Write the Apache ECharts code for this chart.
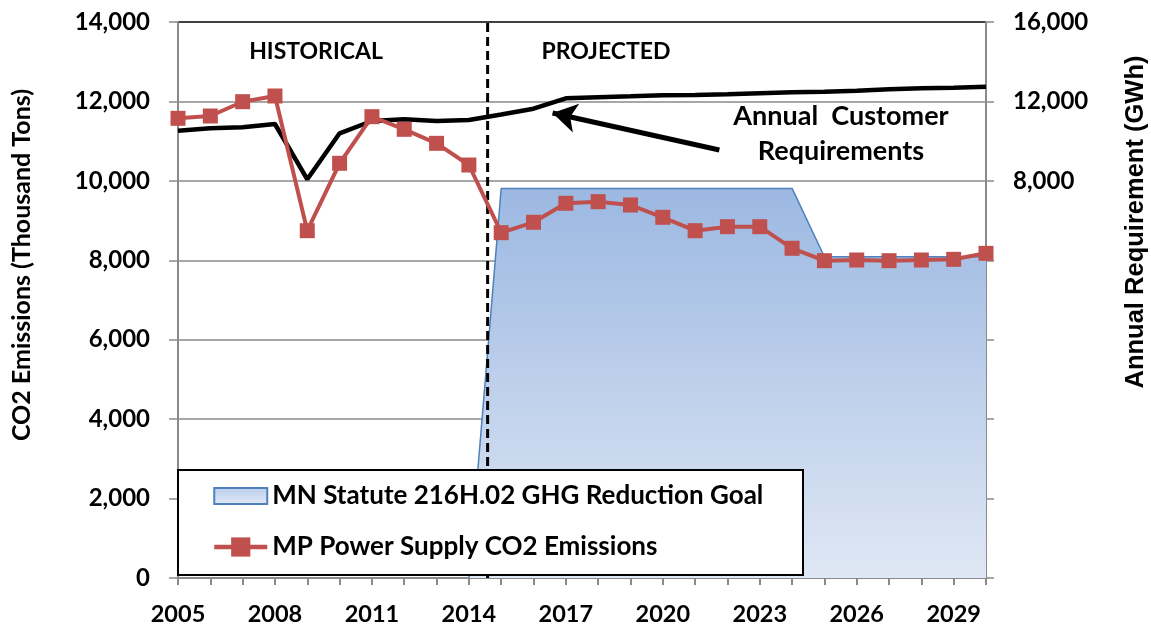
<!DOCTYPE html>
<html>
<head>
<meta charset="utf-8">
<script src="https://cdn.jsdelivr.net/npm/echarts@6/dist/echarts.min.js"></script>
<style>
html,body{margin:0;padding:0;background:#fff;}
#chart{width:1151px;height:627px;}
</style>
</head>
<body>
<div id="chart"></div>
<script>
const years = ['2005','2006','2007','2008','2009','2010','2011','2012','2013','2014','2015','2016','2017','2018','2019','2020','2021','2022','2023','2024','2025','2026','2027','2028','2029','2030'];
const co2Emissions = [11575,11633,11993,12137,8745,10442,11616,11298,10945,10399,8695,8957,9435,9476,9392,9082,8745,8846,8846,8302,7990,8007,7990,8007,8024,8175];
const reductionGoal = [null,null,null,null,null,null,null,null,null,0,9810,9810,9810,9810,9810,9810,9810,9810,9810,9810,8090,8090,8090,8090,8090,8090];
const customerReq = [10526,10647,10697,10863,8078,10395,11014,11100,11014,11065,11342,11634,12157,12208,12258,12309,12324,12359,12410,12460,12490,12540,12610,12660,12690,12740];
const dividerYear = 2014.58;
const arrowFrom = [2021.75, 10777];
const arrowTo = [2016.59, 11709];
const leftTicks = [0,2000,4000,6000,8000,10000,12000,14000];
const rightShownTicks = [8000,12000,16000];

const F = 'Lato, "Open Sans", sans-serif';
const grey = '#8a8a8a';
const chart = echarts.init(document.getElementById('chart'), null, {renderer:'canvas'});

const areaGrad = new echarts.graphic.LinearGradient(0,0,0,1,[
  {offset:0,color:'#9cb8e2'},{offset:1,color:'#dfe7f4'}]);
const legendGrad = new echarts.graphic.LinearGradient(0,0,0,1,[
  {offset:0,color:'#b9cdec'},{offset:1,color:'#e3eaf6'}]);

chart.setOption({
  animation:false,
  backgroundColor:'#fff',
  grid:{left:178,right:165,top:22,bottom:49,containLabel:false},
  xAxis:[{
    type:'category',data:years,boundaryGap:false,
    axisLine:{lineStyle:{color:grey,width:2}},
    axisTick:{show:true,interval:0,length:7,lineStyle:{color:grey,width:2}},
    axisLabel:{interval:2,margin:24,color:'#000',fontFamily:F,fontWeight:'bold',fontSize:23.5},
    splitLine:{show:false}
  },{
    type:'value',min:2005,max:2030,show:false
  }],
  yAxis:[{
    type:'value',min:leftTicks[0],max:leftTicks[leftTicks.length-1],interval:2000,
    axisLine:{show:true,lineStyle:{color:grey,width:2}},
    axisTick:{show:true,length:9,lineStyle:{color:grey,width:1.5}},
    axisLabel:{margin:28,color:'#000',fontFamily:F,fontWeight:'bold',fontSize:24,
      formatter:v=>v.toLocaleString('en-US')},
    splitLine:{show:true,lineStyle:{color:[grey,grey,grey,grey,grey,grey,grey,'#000'],width:1.5}}
  },{
    type:'value',min:-12000,max:16000,interval:4000,position:'right',
    axisLine:{show:true,lineStyle:{color:grey,width:2}},
    axisTick:{show:true,length:8,lineStyle:{color:grey,width:1.5}},
    axisLabel:{margin:27,color:'#000',fontFamily:F,fontWeight:'bold',fontSize:24,
      formatter:v=>rightShownTicks.indexOf(v)>=0?v.toLocaleString('en-US'):''},
    splitLine:{show:false}
  }],
  legend:{
    left:212,top:483,orient:'vertical',itemGap:25,itemWidth:53,itemHeight:24,
    padding:0,z:10,symbolKeepAspect:true,
    textStyle:{color:'#000',fontFamily:F,fontWeight:'bold',fontSize:26},
    data:[
      {name:'MN Statute 216H.02 GHG Reduction Goal',icon:'path://M0,0H53V16H0Z',
        itemStyle:{color:legendGrad,borderColor:'#4f81bd',borderWidth:2}},
      {name:'MP Power Supply CO2 Emissions',lineStyle:{width:4.5,color:'#c0504d'}}
    ]
  },
  graphic:[
    {type:'rect',z:9,shape:{x:178,y:470,width:625,height:105},
      style:{fill:'#fff',stroke:'#000',lineWidth:2}},
    {type:'text',z:5,x:316,y:52,style:{text:'HISTORICAL',font:'bold 23px '+F,fill:'#000',align:'center',verticalAlign:'middle'}},
    {type:'text',z:5,x:606,y:52,style:{text:'PROJECTED',font:'bold 23px '+F,fill:'#000',align:'center',verticalAlign:'middle'}},
    {type:'text',z:5,x:841,y:116,style:{text:'Annual  Customer',font:'bold 27px '+F,fill:'#000',align:'center',verticalAlign:'middle'}},
    {type:'text',z:5,x:841,y:151,style:{text:'Requirements',font:'bold 27px '+F,fill:'#000',align:'center',verticalAlign:'middle'}},
    {type:'text',z:5,x:22,y:265,rotation:Math.PI/2,style:{text:'CO2 Emissions (Thousand Tons)',font:'bold 25px '+F,fill:'#000',align:'center',verticalAlign:'middle'}},
    {type:'text',z:5,x:1136,y:222,rotation:Math.PI/2,style:{text:'Annual Requirement (GWh)',font:'bold 25.5px "Liberation Sans", Arial, sans-serif',fill:'#000',align:'center',verticalAlign:'middle'}}
  ],
  series:[
    {
      name:'MN Statute 216H.02 GHG Reduction Goal',type:'line',data:reductionGoal,
      xAxisIndex:0,yAxisIndex:0,symbol:'none',z:1,
      lineStyle:{color:'#4f81bd',width:1.5},
      itemStyle:{color:'#4f81bd'},
      areaStyle:{color:areaGrad,opacity:1}
    },
    {
      name:'divider',type:'line',xAxisIndex:1,yAxisIndex:0,symbol:'none',z:3,
      data:[[dividerYear,leftTicks[0]],[dividerYear,leftTicks[leftTicks.length-1]]],
      lineStyle:{color:'#000',width:3,type:[9,5]},
      markLine:{
        silent:true,symbol:['none','arrow'],symbolSize:[22,24],
        lineStyle:{color:'#000',width:5,type:'solid'},label:{show:false},
        data:[[{coord:arrowFrom},{coord:arrowTo}]]
      }
    },
    {
      name:'Annual Customer Requirements',type:'line',data:customerReq,
      xAxisIndex:0,yAxisIndex:1,symbol:'none',z:4,
      lineStyle:{color:'#000',width:4.5}
    },
    {
      name:'MP Power Supply CO2 Emissions',type:'line',data:co2Emissions,
      xAxisIndex:0,yAxisIndex:0,symbol:'rect',symbolSize:15,z:5,
      lineStyle:{color:'#c0504d',width:4},
      itemStyle:{color:'#c0504d'}
    }
  ]
});
</script>
</body>
</html>
